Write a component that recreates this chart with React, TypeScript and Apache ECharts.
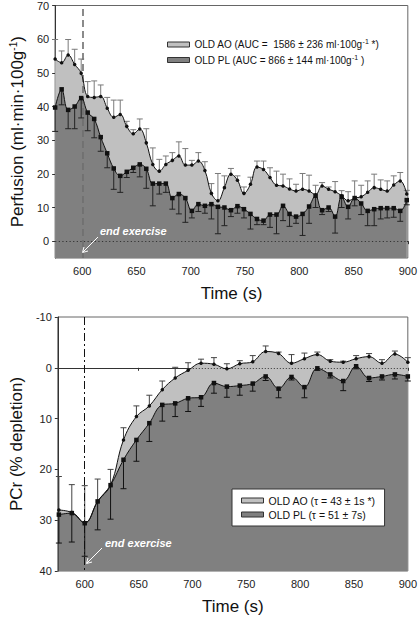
import React, { useEffect, useRef } from 'react';
import * as echarts from 'echarts';

// ---------- Top panel: perfusion ----------
const perfTimes = [
  575, 581, 587, 593, 599, 605, 611, 617, 623, 629, 635, 641, 647, 653, 659,
  665, 671, 677, 683, 689, 695, 701, 707, 713, 719, 725, 731, 737, 743, 749,
  755, 761, 767, 773, 779, 785, 791, 797, 803, 809, 815, 821, 827, 833, 839,
  845, 851, 857, 863, 869, 875, 881, 887, 893, 899,
];
const perfAO = [
  54.1, 53, 55.3, 52.5, 49.9, 43, 42.7, 43, 39.5, 36.8, 37.6, 34.1, 31.9, 33.3, 29.2,
  22.8, 20.8, 22.8, 24, 25.3, 22.6, 22.6, 23.8, 21, 14.2, 12, 15.9, 19.9, 18.1, 14.2,
  16.9, 22, 21.3, 18.9, 16.6, 16.4, 15.5, 14.9, 15.4, 14.9, 13.8, 16.4, 15.4, 14.7, 13.5,
  12, 12.8, 13.2, 14.5, 15.9, 15.4, 14.9, 16.7, 17.9, 14,
];
const perfAOErr = [
  5.8, 3.5, 4.6, 4.5, 4.2, 4.4, 4.9, 3.4, 3.2, 5.1, 4.3, 1.5, 1.2, 3, 4.2,
  4.9, 3.5, 2.5, 2.3, 4.2, 4.9, 1.4, 2.5, 2.6, 2.9, 8.1, 3.5, 1.7, 1.3, 1.9,
  2.1, 1.8, 2.5, 2.9, 4.2, 3.5, 3, 2, 4.7, 4.7, 2.8, 1, 0.7, 3, 1.5,
  2.7, 5.1, 3.4, 3.4, 4, 2.8, 3, 2.7, 2.5, 1.1,
];
const perfPL = [
  39.7, 45.1, 39, 40, 42.5, 38.2, 36.3, 30.9, 26.1, 21.6, 19.4, 20.6, 21.8, 22.8, 21.5,
  17.1, 17.1, 17.1, 12.8, 14, 12.8, 9, 11, 10.5, 11, 10.2, 10, 9.2, 10.4, 9.5,
  8.1, 6.6, 6.1, 7.9, 7.9, 10.5, 8.1, 7.3, 8.1, 10.3, 13.5, 9.2, 10, 7.3, 13.2,
  10.2, 12.8, 11.2, 9, 9.5, 9.8, 9.8, 9.8, 9, 12.2,
];
const perfPLErr = [
  7.1, 4.6, 5.6, 6.6, 5.9, 5.4, 5.6, 4.2, 4.3, 6.2, 4.9, 1.7, 1.4, 3.7, 5.8,
  6.6, 3.1, 2.6, 3.3, 5.9, 7.2, 2.1, 2.2, 2.2, 4.4, 8, 5.4, 1.9, 2.1, 2.6,
  4.5, 1.7, 1.2, 3.8, 5.7, 4.4, 3.7, 2, 6.4, 5, 3.5, 1.3, 1.2, 4.9, 3.2,
  3.6, 2.3, 3.3, 4.4, 4.9, 3.2, 2.9, 2.7, 3.1, 1.4,
];

// ---------- Bottom panel: PCr ----------
const pcrTimes = [
  576, 588, 600, 612, 624, 636, 648, 660, 672, 684, 696, 708, 720, 732,
  744, 756, 768, 780, 792, 804, 816, 828, 840, 852, 864, 876, 888, 900,
];
const pcrAO = [
  28, 28.5, 30.5, 26.3, 23.1, 14.2, 9.6, 7.5, 4.3, 2, 0.5, -0.9, -0.7, 0.2,
  -0.8, -1.2, -3.2, -2.8, -0.9, -1.8, -2.6, -1.3, -1.1, -1.8, -2.2, -0.9, -2.7, -1.1,
];
const pcrAOErr = [
  6.6, 5.5, 7.3, 4.4, 3.1, 2.4, 2.1, 2.1, 1.7, 2.1, 1.5, 0.8, 1.3, 1,
  0.6, 1.2, 1.1, 0.3, 1.7, 1.1, 0.5, 0.3, 0.2, 0.6, 0.6, 0.7, 0.6, 0.9,
];
const pcrPL = [
  28.9, 28.6, 30.6, 26.3, 23.1, 18.1, 14.2, 10.9, 7.3, 7, 6, 5.8, 3, 3.7,
  3.5, 3.1, 1.7, 4.1, 1.8, 3.8, 0.1, 1.3, 2.6, -0.3, 2, 1.7, 1.3, 1.7,
];
const pcrPLErr = [
  5.6, 5.7, 6.5, 5.6, 6.7, 5.7, 4.2, 3.6, 3.2, 2.6, 2.6, 1.8, 2, 2.1,
  1.9, 1.5, 0.8, 1.8, 0.6, 2.1, 0.4, 0.7, 1.9, 0.5, 0.7, 0.7, 0.9, 0.9,
];

// ---------- Axis ticks ----------
const timeTicks = [600, 650, 700, 750, 800, 850, 900];
const perfTicks = [0, 10, 20, 30, 40, 50, 60, 70];

const FONT = '"Liberation Sans", Arial, Helvetica, sans-serif';
const LIGHT = '#c0c0c0';
const DARK = '#808080';

const legendText: Record<string, string> = {
  aoTop: 'OLD AO (AUC =  1586 ± 236 ml·100g{sup|-1} *)',
  plTop: 'OLD PL (AUC = 866 ± 144 ml·100g{sup|-1} )',
  aoBot: 'OLD AO (τ = 43 ± 1s *)',
  plBot: 'OLD PL (τ = 51 ± 7s)',
};

function pairs(t: number[], v: number[]) {
  return t.map((x, i) => [x, v[i]]);
}
function errData(t: number[], v: number[], e: number[], sign: number) {
  return t.map((x, i) => [x, v[i], v[i] + sign * e[i]]);
}

function errSeries(gi: number, data: number[][], color: string) {
  return {
    type: 'custom',
    xAxisIndex: gi,
    yAxisIndex: gi,
    z: 4,
    silent: true,
    data,
    renderItem: (_p: any, api: any) => {
      const a = api.coord([api.value(0), api.value(1)]);
      const b = api.coord([api.value(0), api.value(2)]);
      const style = { stroke: color, lineWidth: 1 };
      return {
        type: 'group',
        children: [
          { type: 'line', shape: { x1: a[0], y1: a[1], x2: b[0], y2: b[1] }, style },
          { type: 'line', shape: { x1: b[0] - 3, y1: b[1], x2: b[0] + 3, y2: b[1] }, style },
        ],
      };
    },
  };
}

function fillSeries(name: string, gi: number, data: number[][], color: string, origin: string, z: number) {
  return {
    name,
    type: 'line',
    xAxisIndex: gi,
    yAxisIndex: gi,
    data,
    smooth: 0.4,
    symbol: 'none',
    z,
    silent: true,
    itemStyle: { color, borderColor: '#222', borderWidth: 1 },
    lineStyle: { opacity: 0, width: 0 },
    areaStyle: { color, opacity: 1, origin },
  };
}

function lineSeries(gi: number, data: number[][], symbol: string, size: number, markLine?: any) {
  const s: any = {
    type: 'line',
    xAxisIndex: gi,
    yAxisIndex: gi,
    data,
    smooth: 0.4,
    symbol,
    symbolSize: size,
    z: 5,
    silent: true,
    itemStyle: { color: '#111' },
    lineStyle: { color: '#111', width: 1 },
  };
  if (markLine) s.markLine = markLine;
  return s;
}

function xAxis(gi: number) {
  return {
    gridIndex: gi,
    type: 'value',
    min: 575,
    max: 900,
    name: 'Time (s)',
    nameLocation: 'middle',
    nameGap: 27,
    nameTextStyle: { fontSize: 17, color: '#111', fontFamily: FONT, fontWeight: 'normal' },
    axisLine: { show: true, lineStyle: { color: '#333' } },
    axisTick: { show: true, length: 3, customValues: timeTicks, lineStyle: { color: '#333' } },
    axisLabel: { customValues: timeTicks, fontSize: 11, color: '#222', margin: 7, fontFamily: FONT },
    splitLine: { show: false },
  };
}

export default function App() {
  const ref = useRef<HTMLDivElement>(null);
  useEffect(() => {
    document.body.style.margin = '0';
    const chart = echarts.init(ref.current!, undefined, { renderer: 'svg' });
    const arrowWhite = { stroke: '#fff', lineWidth: 1 };
    const endText = {
      text: 'end exercise',
      fill: '#fff',
      fontSize: 11,
      fontStyle: 'italic',
      fontWeight: 'bold',
      fontFamily: FONT,
      verticalAlign: 'middle',
    };
    const option: any = {
      animation: false,
      backgroundColor: '#fff',
      textStyle: { fontFamily: FONT },
      grid: [
        { left: 47, top: 4, width: 363, height: 254, show: true, borderColor: '#666', borderWidth: 1 },
        { left: 48, top: 317, width: 362, height: 254, show: true, borderColor: '#666', borderWidth: 1 },
      ],
      xAxis: [xAxis(0), xAxis(1)],
      yAxis: [
        {
          gridIndex: 0,
          type: 'value',
          min: -5,
          max: 70,
          name: 'Perfusion (ml·min·100g{sup|-1})',
          nameLocation: 'middle',
          nameGap: 28,
          nameRotate: 90,
          nameTextStyle: {
            fontSize: 17,
            color: '#111',
            fontFamily: FONT,
            fontWeight: 'normal',
            rich: { sup: { fontSize: 10, color: '#111', padding: [0, 0, 9, 0], fontFamily: FONT } },
          },
          axisLine: { show: true, lineStyle: { color: '#333' } },
          axisTick: { show: true, length: 3, customValues: perfTicks, lineStyle: { color: '#333' } },
          axisLabel: { customValues: perfTicks, fontSize: 11, color: '#222', margin: 6, fontFamily: FONT },
          splitLine: { show: false },
        },
        {
          gridIndex: 1,
          type: 'value',
          inverse: true,
          min: -10,
          max: 40,
          interval: 10,
          name: 'PCr (% depletion)',
          nameLocation: 'middle',
          nameGap: 28,
          nameRotate: 90,
          nameTextStyle: { fontSize: 17, color: '#111', fontFamily: FONT, fontWeight: 'normal' },
          axisLine: { show: true, lineStyle: { color: '#333' } },
          axisTick: { show: true, length: 3, lineStyle: { color: '#333' } },
          axisLabel: { fontSize: 11, color: '#222', margin: 6, fontFamily: FONT },
          splitLine: { show: false },
        },
      ],
      legend: [
        {
          data: ['aoTop', 'plTop'],
          left: 162,
          top: 33,
          orient: 'vertical',
          itemGap: 4,
          itemWidth: 22,
          itemHeight: 5,
          icon: 'rect',
          selectedMode: false,
          formatter: (n: string) => legendText[n],
          itemStyle: { borderColor: '#333', borderWidth: 1 },
          textStyle: {
            fontSize: 10,
            color: '#111',
            fontFamily: FONT,
            rich: { sup: { fontSize: 7, color: '#111', padding: [0, 0, 6, 0], fontFamily: FONT } },
          },
        },
        {
          data: ['aoBot', 'plBot'],
          left: 232,
          top: 489,
          orient: 'vertical',
          itemGap: 3,
          itemWidth: 22,
          itemHeight: 5,
          icon: 'rect',
          selectedMode: false,
          padding: [6, 9, 6, 9],
          backgroundColor: '#fff',
          borderColor: '#333',
          borderWidth: 1,
          formatter: (n: string) => legendText[n],
          itemStyle: { borderColor: '#333', borderWidth: 1 },
          textStyle: { fontSize: 10.5, color: '#111', fontFamily: FONT },
        },
      ],
      series: [
        fillSeries('aoTop', 0, pairs(perfTimes, perfAO), LIGHT, 'start', 1),
        fillSeries('plTop', 0, pairs(perfTimes, perfPL), DARK, 'start', 2),
        errSeries(0, errData(perfTimes, perfAO, perfAOErr, 1), '#7a7a7a'),
        errSeries(0, errData(perfTimes, perfPL, perfPLErr, -1), '#222'),
        lineSeries(0, pairs(perfTimes, perfAO), 'circle', 3.5),
        lineSeries(0, pairs(perfTimes, perfPL), 'rect', 4.5, {
          silent: true,
          symbol: ['none', 'none'],
          label: { show: false },
          data: [
            { yAxis: 0, lineStyle: { color: '#333', width: 1.2, type: [1.2, 2.4] } },
            { xAxis: 600, lineStyle: { color: '#6e6e6e', width: 1.6, type: [7, 4] } },
          ],
        }),

        fillSeries('aoBot', 1, pairs(pcrTimes, pcrAO), LIGHT, 'end', 1),
        fillSeries('plBot', 1, pairs(pcrTimes, pcrPL), DARK, 'end', 2),
        errSeries(1, errData(pcrTimes, pcrAO, pcrAOErr, -1), '#444'),
        errSeries(1, errData(pcrTimes, pcrPL, pcrPLErr, 1), '#111'),
        lineSeries(1, pairs(pcrTimes, pcrAO), 'circle', 3.5),
        lineSeries(1, pairs(pcrTimes, pcrPL), 'rect', 4.5, {
          silent: true,
          symbol: ['none', 'none'],
          label: { show: false },
          data: [
            { yAxis: 0, lineStyle: { color: '#333', width: 1, type: [1, 2] } },
            { xAxis: 600, lineStyle: { color: '#111', width: 1, type: [8, 3, 2, 3] } },
          ],
        }),
      ],
      graphic: [
        { type: 'text', x: 100, y: 231, z: 10, style: endText },
        { type: 'line', z: 10, shape: { x1: 98, y1: 237, x2: 83, y2: 252 }, style: arrowWhite },
        { type: 'polyline', z: 10, shape: { points: [[88, 251], [82.5, 252.5], [84, 247]] }, style: { ...arrowWhite, fill: 'none' } },
        { type: 'text', x: 105, y: 543, z: 10, style: endText },
        { type: 'line', z: 10, shape: { x1: 102, y1: 548, x2: 87, y2: 563 }, style: arrowWhite },
        { type: 'polyline', z: 10, shape: { points: [[92, 562], [86.5, 563.5], [88, 558]] }, style: { ...arrowWhite, fill: 'none' } },
      ],
    };
    chart.setOption(option);
    return () => chart.dispose();
  }, []);
  return <div ref={ref} style={{ width: 420, height: 618 }} />;
}
